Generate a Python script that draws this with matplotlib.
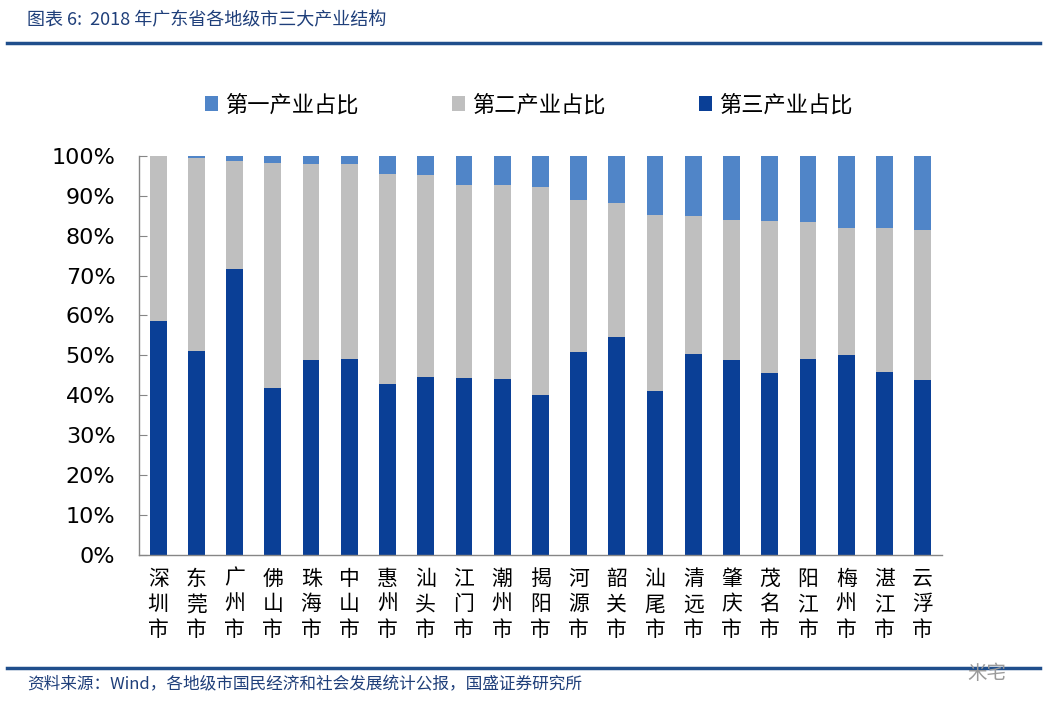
import matplotlib
matplotlib.use("Agg")
import matplotlib.pyplot as plt
import numpy as np

plt.rcParams["font.family"] = ["Noto Sans CJK SC", "DejaVu Sans"]

cities = ["深圳市", "东莞市", "广州市", "佛山市", "珠海市", "中山市", "惠州市",
          "汕头市", "江门市", "潮州市", "揭阳市", "河源市", "韶关市", "汕尾市",
          "清远市", "肇庆市", "茂名市", "阳江市", "梅州市", "湛江市", "云浮市"]
# share of tertiary industry (%), bottom segment
tertiary = [58.6, 51.0, 71.6, 41.8, 48.9, 49.1, 42.8, 44.5, 44.3, 44.1, 40.0,
            50.8, 54.6, 41.0, 50.3, 48.8, 45.6, 49.1, 50.0, 45.9, 43.8]
# share of secondary industry (%)
secondary = [41.3, 48.4, 27.2, 56.4, 49.0, 48.8, 52.7, 50.8, 48.5, 48.6, 52.1,
             38.2, 33.5, 44.1, 34.5, 35.1, 38.1, 34.4, 32.0, 36.1, 37.7]
# share of primary industry (%)
primary = [0.1, 0.6, 1.2, 1.8, 2.1, 2.1, 4.5, 4.7, 7.2, 7.3, 7.9,
           11.0, 11.9, 14.9, 15.2, 16.1, 16.3, 16.5, 18.0, 18.0, 18.5]

c_prim = "#5085C8"
c_sec = "#BFBFBF"
c_ter = "#0A3F96"
c_line = "#1F4E8C"
c_title = "#1F3F7A"

fig = plt.figure(figsize=(10.57, 7.18), dpi=100)
ax = fig.add_axes([0.1315, 0.227, 0.7595, 0.556])

x = np.arange(len(cities))
ter = np.array(tertiary) / 100
sec = np.array(secondary) / 100
pri = np.array(primary) / 100
w = 0.44
b3 = ax.bar(x, ter, w, color=c_ter, label="第三产业占比")
b2 = ax.bar(x, sec, w, bottom=ter, color=c_sec, label="第二产业占比")
b1 = ax.bar(x, pri, w, bottom=ter + sec, color=c_prim, label="第一产业占比")

ax.set_ylim(0, 1)
ax.set_xlim(-0.5, len(cities) - 0.5)
ax.set_yticks(np.arange(0, 1.01, 0.1))
ax.set_yticklabels([f"{int(round(v * 100))}%" for v in np.arange(0, 1.01, 0.1)],
                   family="DejaVu Sans", fontsize=16)
ax.tick_params(axis="y", direction="in", length=6, color="#868686", pad=17)
ax.set_xticks(x)
ax.set_xticklabels(["\n".join(c) for c in cities], fontsize=15,
                   linespacing=1.22)
ax.tick_params(axis="x", length=0, pad=9)

for s in ["top", "right"]:
    ax.spines[s].set_visible(False)
for s in ["left", "bottom"]:
    ax.spines[s].set_color("#868686")
    ax.spines[s].set_linewidth(1.0)

fig.legend(handles=[b1, b2, b3], loc="center", bbox_to_anchor=(0.50, 0.854),
           ncol=3, frameon=False, fontsize=16, handlelength=0.6,
           handleheight=0.6, handletextpad=0.3, columnspacing=4.2)

fig.text(0.026, 0.972, "图表 6:  2018 年广东省各地级市三大产业结构",
         fontsize=13, color=c_title, style="italic", va="center")
fig.add_artist(plt.Line2D([0.007, 0.984], [0.940, 0.940], color=c_line,
                          lw=2.5, transform=fig.transFigure))
fig.add_artist(plt.Line2D([0.007, 0.984], [0.070, 0.070], color=c_line,
                          lw=2.5, transform=fig.transFigure))
fig.text(0.026, 0.046, "资料来源：Wind，各地级市国民经济和社会发展统计公报，国盛证券研究所",
         fontsize=12, color=c_title, style="italic", va="center")
fig.text(0.915, 0.062, "米宅", fontsize=14, color="#9A9A9A", va="center")

fig.savefig("out.png", dpi=100)
